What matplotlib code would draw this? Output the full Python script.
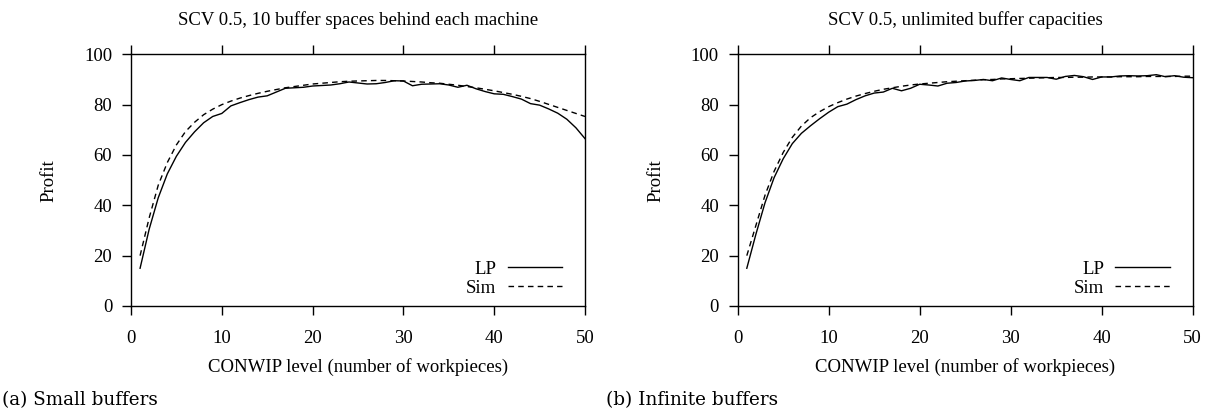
import matplotlib
matplotlib.use("Agg")
import matplotlib.pyplot as plt
import numpy as np

# CONWIP level 1..50
conwip = np.arange(1, 51)

# (a) small buffers
lp_small = [15, 30.5, 43, 52.5, 59.5, 65, 69.2, 72.8, 75.3, 76.5,
            79.5, 80.8, 82, 83, 83.5, 85, 86.5, 86.7, 86.9, 87.4,
            87.6, 87.8, 88.3, 89, 88.6, 88.2, 88.3, 88.8, 89.5, 89.4,
            87.5, 88.1, 88.2, 88.3, 87.8, 86.9, 87.7, 86.3, 85.2, 84.3,
            84.1, 83.2, 82.2, 80.4, 79.8, 78.3, 76.6, 74.2, 70.8, 66.5]
sim_small = [20, 35, 48, 57, 64, 69.3, 73, 76, 78.2, 80,
             81.4, 82.6, 83.6, 84.5, 85.3, 86, 86.7, 87.2, 87.7, 88.2,
             88.5, 88.8, 89.1, 89.3, 89.4, 89.5, 89.6, 89.6, 89.5, 89.4,
             89.2, 89.0, 88.7, 88.5, 88.1, 87.7, 87.2, 86.7, 86.1, 85.5,
             84.8, 84.1, 83.3, 82.4, 81.3, 80.1, 78.9, 77.7, 76.5, 75.3]

# (b) infinite buffers
lp_inf = [15, 28.5, 41, 51, 58.5, 64.5, 68.6, 71.6, 74.4, 77,
          79.2, 80.2, 82, 83.5, 84.6, 85, 86.5, 85.5, 86.5, 88.1,
          87.8, 87.4, 88.5, 88.8, 89.4, 89.6, 90.0, 89.5, 90.6, 90.0,
          89.5, 90.8, 90.8, 90.8, 90.1, 91.2, 91.6, 91.1, 90.0, 91.0,
          91.0, 91.4, 91.5, 91.4, 91.5, 91.9, 91.1, 91.5, 90.9, 90.7]
sim_inf = [20, 32, 44, 53.5, 61, 67, 71.5, 74.8, 77.2, 79.2,
           80.8, 82.2, 83.4, 84.4, 85.3, 86.1, 86.7, 87.3, 87.8, 88.2,
           88.5, 88.8, 89.1, 89.3, 89.5, 89.7, 89.9, 90.0, 90.2, 90.3,
           90.4, 90.5, 90.6, 90.7, 90.8, 90.8, 90.9, 90.9, 91.0, 91.0,
           91.0, 91.1, 91.1, 91.1, 91.2, 91.2, 91.2, 91.2, 91.3, 91.3]

titles = ["SCV 0.5, 10 buffer spaces behind each machine",
          "SCV 0.5, unlimited buffer capacities"]
captions = ["(a) Small buffers", "(b) Infinite buffers"]
xticks = [0, 10, 20, 30, 40, 50]
yticks = [0, 20, 40, 60, 80, 100]

plt.rcParams['font.family'] = ['Liberation Serif', 'DejaVu Serif']
fs = 13.5

fig = plt.figure(figsize=(12.15, 4.09), dpi=100)
W, H = 1215, 409
boxes = [(131, 585), (737.7, 1192.7)]
caption_x = [2, 606]
series = [(lp_small, sim_small), (lp_inf, sim_inf)]

for i, ((x0, x1), (lp, sim)) in enumerate(zip(boxes, series)):
    ax = fig.add_axes([x0 / W, 1 - 306 / H, (x1 - x0) / W, (306 - 54.3) / H])
    ax.plot(conwip, lp, color='black', lw=1.0, label='LP')
    ax.plot(conwip, sim, color='black', lw=1.0, dashes=(4, 3), label='Sim')
    ax.set_xlim(0, 50)
    ax.set_ylim(0, 100)
    ax.set_xticks(xticks)
    ax.set_yticks(yticks)
    ax.tick_params(direction='out', length=6.5, width=1.0, top=True, right=False,
                   colors='black', labelsize=fs)
    ax.tick_params(axis='x', pad=10.5)
    ax.tick_params(axis='y', pad=7)
    for s in ax.spines.values():
        s.set_linewidth(1.0)
    ax.set_title(titles[i], fontsize=fs, pad=21)
    ax.set_xlabel("CONWIP level (number of workpieces)", fontsize=fs, labelpad=8)
    ax.set_ylabel("Profit", fontsize=fs, labelpad=19)
    ax.legend(loc='lower right', bbox_to_anchor=(0.97, 0.0), frameon=False,
              markerfirst=False, handlelength=2.9, handletextpad=0.6,
              labelspacing=0.08, fontsize=fs, borderpad=0)
    fig.text(caption_x[i] / W, 1 - 400 / H, captions[i],
             family='DejaVu Serif', fontsize=13.2, va='center', ha='left')

fig.savefig("out.png", dpi=100)
